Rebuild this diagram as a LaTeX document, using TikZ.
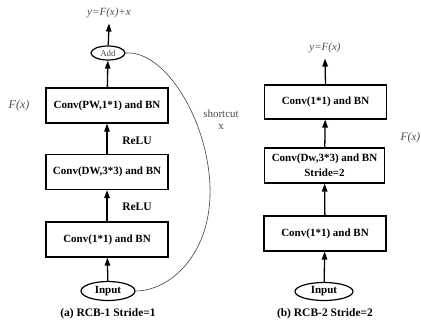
\documentclass[tikz,border=0pt]{standalone}
\usepackage{fontspec}
\setmainfont{Liberation Serif}
\usetikzlibrary{arrows.meta,shapes.geometric}
\begin{document}
\begin{tikzpicture}[x=1pt,y=-1pt,
  box/.style={draw,line width=1.2pt,minimum width=122pt,minimum height=35pt,inner sep=0pt,align=center,font=\bfseries\fontsize{11}{15}\selectfont},
  oval/.style={draw,ellipse,line width=1.2pt,inner sep=0pt},
  arr/.style={line width=1.3pt,-{Triangle[length=8pt,width=5.5pt]}},
  lbl/.style={text=black!70,font=\fontsize{11}{13}\selectfont},
  bl/.style={font=\bfseries\fontsize{11.5}{13}\selectfont},
  fx/.style={text=black!70,font=\itshape\fontsize{12}{14}\selectfont}]
\useasboundingbox (0,0) rectangle (421,335);
% left column
\node[box] (b1) at (107,105.5) {Conv(PW,1*1) and BN};
\node[box] (b2) at (107,172) {Conv(DW,3*3) and BN};
\node[box] (b3) at (107,239.5) {Conv(1*1) and BN};
\node[oval,minimum width=54pt,minimum height=19pt,font=\bfseries\fontsize{11}{13}\selectfont] (in1) at (108,291) {Input};
\node[oval,minimum width=34pt,minimum height=14pt,text=black!70,font=\fontsize{9}{10}\selectfont] (add) at (108,53) {Add};
\node[lbl,font=\itshape\fontsize{11}{13}\selectfont] (out1) at (109,13) {y=F(x)+x};
\node[fx] (fx1) at (19,106) {F(x)};
\node[bl] (r1) at (137,141) {ReLU};
\node[bl] (r2) at (137,207) {ReLU};
\node[lbl,align=center] (sc) at (221,120) {shortcut\\[-1pt]x};
\node[bl] (capa) at (108,314) {(a) RCB-1 Stride=1};
\draw[arr] (in1) -- (b3);
\draw[arr] (b3) -- (b2);
\draw[arr] (b2) -- (b1);
\draw[arr] (b1) -- (add);
\draw[arr] (add) -- ([yshift=-2pt]out1.south);
\coordinate (scr) at (210,187);
\draw[line width=0.6pt,black!75] (add.east) .. controls (165,50) and (208,120) .. (scr) .. controls (212,254) and (170,291) .. (in1.east);
% right column
\node[box,minimum height=34pt] (c1) at (325.5,102) {Conv(1*1) and BN};
\node[box,minimum width=120pt] (c2) at (324.5,165.5) {Conv(Dw,3*3) and BN\\Stride=2};
\node[box] (c3) at (325,233.5) {Conv(1*1) and BN};
\node[oval,minimum width=58pt,minimum height=18pt,font=\bfseries\fontsize{11}{13}\selectfont] (in2) at (324,291.5) {Input};
\node[lbl,font=\itshape\fontsize{11}{13}\selectfont] (out2) at (325,48) {y=F(x)};
\node[fx,anchor=east,inner sep=0pt,font=\itshape\fontsize{11.5}{14}\selectfont] (fx2) at (420.5,138) {F(x)};
\node[bl] (capb) at (325,314) {(b) RCB-2 Stride=2};
\draw[arr] (in2) -- (c3);
\draw[arr] (c3) -- (c2);
\draw[arr] (c2) -- (c1);
\draw[arr] (c1.north) -- ([yshift=-2pt]out2.south);
\end{tikzpicture}
\end{document}
